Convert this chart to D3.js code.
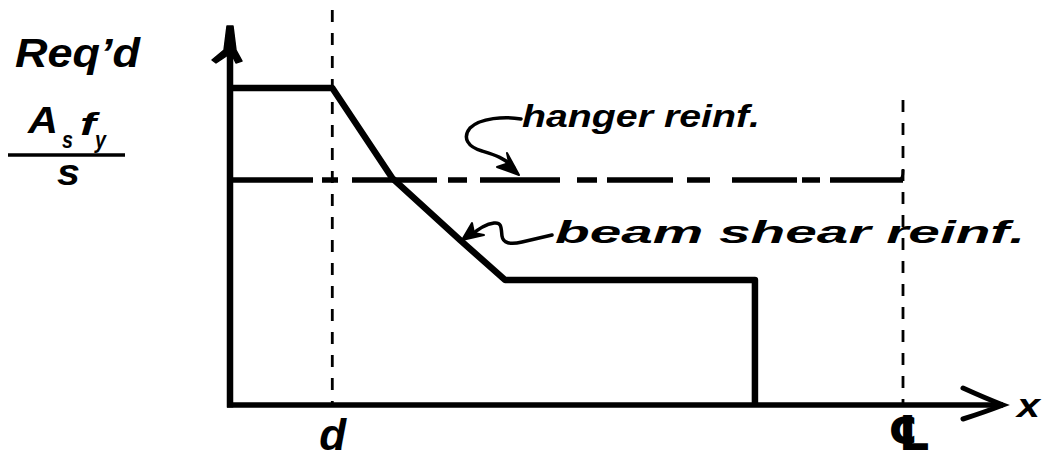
<!DOCTYPE html>
<html>
<head>
<meta charset="utf-8">
<script src="https://cdn.jsdelivr.net/npm/d3@7"></script>
<style>
  html, body { margin: 0; padding: 0; background: #fff; }
  svg { display: block; }
  text { font-family: "Liberation Sans", Arial, sans-serif; font-style: italic; fill: #000; }
</style>
</head>
<body>
<svg id="chart" width="1042" height="462"></svg>
<script>
// ---- data (normalized: x = fraction of distance to centreline, y = relative required A_s f_y / s)
const dPosition = 0.152;              // location of "d" from support
const centrePosition = 1.0;           // centreline of span
const shearX = [0, 0.152, 0.241, 0.342, 0.409, 0.780, 0.780];
const shearY = [1, 1, 0.716, 0.520, 0.394, 0.394, 0];
const hangerX = [0, 1.0];
const hangerY = [0.710, 0.710];
const tickValues = [dPosition, centrePosition];
const tickLabels = ["d", "\u2104"];
const yLabel = "Req\u2019d";
const hangerLabel = "hanger reinf.";
const shearLabel = "beam shear reinf.";

// ---- scales
const svg = d3.select("#chart");
const x = d3.scaleLinear().domain([0, 1]).range([230, 903]);
const y = d3.scaleLinear().domain([0, 1]).range([405, 88]);

// ---- vertical dashed reference lines
svg.append("line").attr("x1", x(dPosition)).attr("x2", x(dPosition))
  .attr("y1", 10).attr("y2", 405)
  .attr("stroke", "#000").attr("stroke-width", 2.8).attr("stroke-dasharray", "12,11");
svg.append("line").attr("x1", x(centrePosition)).attr("x2", x(centrePosition))
  .attr("y1", 100).attr("y2", 405)
  .attr("stroke", "#000").attr("stroke-width", 2.8).attr("stroke-dasharray", "12,11");

// ---- hanger reinforcement (dash-dot)
svg.append("path")
  .datum(hangerX.map((v, i) => [v, hangerY[i]]))
  .attr("d", d3.line().x(d => x(d[0])).y(d => y(d[1])))
  .attr("fill", "none").attr("stroke", "#000").attr("stroke-width", 5.5)
  .attr("stroke-dasharray", "83 9 16 14 85 11 19 13 80 17 20 10 66 14 23 22 65 5 18 10 73");
// small upturn at centreline end
svg.append("path")
  .attr("d", `M${x(1) - 4},${y(hangerY[1])} Q${x(1)},${y(hangerY[1])} ${x(1)},${y(hangerY[1]) - 10}`)
  .attr("fill", "none").attr("stroke", "#000").attr("stroke-width", 3);

// ---- beam shear reinforcement (thick solid)
svg.append("path")
  .datum(shearX.map((v, i) => [v, shearY[i]]))
  .attr("d", d3.line().x(d => x(d[0])).y(d => y(d[1])))
  .attr("fill", "none").attr("stroke", "#000").attr("stroke-width", 6.5)
  .attr("stroke-linejoin", "round");

// ---- axes
const xAxisY = y(0);
svg.append("line").attr("x1", x(0) - 3).attr("x2", 1003).attr("y1", xAxisY).attr("y2", xAxisY)
  .attr("stroke", "#000").attr("stroke-width", 5.5);
svg.append("path").attr("d", `M963,388 Q985,398 1003,${xAxisY} Q985,412 963,419`)
  .attr("fill", "none").attr("stroke", "#000").attr("stroke-width", 5).attr("stroke-linecap", "round");
svg.append("line").attr("x1", x(0)).attr("x2", x(0)).attr("y1", xAxisY + 2.5).attr("y2", 30)
  .attr("stroke", "#000").attr("stroke-width", 6.5);
svg.append("path").attr("d", `M${x(0) - 3},26 L${x(0) + 3},26 L${x(0) + 6},50 L242,61 L236,63 L${x(0) + 2},55 L${x(0) - 2},55 L216,63 L212,60 L${x(0) - 6},50 Z`)
  .attr("fill", "#000").attr("stroke", "#000").attr("stroke-width", 1.5).attr("stroke-linejoin", "round");

// tick labels via d3 axis
const axis = d3.axisBottom(x).tickValues(tickValues)
  .tickFormat((d, i) => tickLabels[i]).tickSize(0).tickPadding(0);
const gAxis = svg.append("g").attr("transform", `translate(0,${xAxisY})`).call(axis);
gAxis.select(".domain").remove();
gAxis.selectAll("text")
  .attr("dy", null).attr("y", 45)
  .style("font-family", "'Liberation Sans', Arial, sans-serif")
  .style("font-style", "italic").style("font-weight", "bold")
  .style("font-size", "44px").attr("fill", "#000");
gAxis.selectAll(".tick").filter((d, i) => i === 1).select("text")
  .attr("y", 45).attr("x", 6)
  .style("font-family", "'DejaVu Sans', sans-serif").style("font-style", "normal")
  .style("font-weight", "bold")
  .style("font-size", "48px");

svg.append("text").attr("x", 1017).attr("y", 417)
  .attr("font-size", 33).attr("font-weight", "bold")
  .attr("textLength", 23).attr("lengthAdjust", "spacingAndGlyphs").text("x");

// ---- y label
svg.append("text").attr("x", 15).attr("y", 67)
  .attr("font-size", 40).attr("font-weight", "bold")
  .attr("textLength", 125).attr("lengthAdjust", "spacingAndGlyphs").text(yLabel);
svg.append("text").attr("x", 28).attr("y", 133).attr("font-size", 36).attr("font-weight", "bold")
  .attr("textLength", 30).attr("lengthAdjust", "spacingAndGlyphs").text("A");
svg.append("text").attr("x", 62).attr("y", 148).attr("font-size", 24).attr("font-weight", "bold")
  .attr("textLength", 11).attr("lengthAdjust", "spacingAndGlyphs").text("s");
svg.append("text").attr("x", 80).attr("y", 135).attr("font-size", 32).attr("font-weight", "bold")
  .attr("textLength", 16).attr("lengthAdjust", "spacingAndGlyphs").text("f");
svg.append("text").attr("x", 95).attr("y", 148).attr("font-size", 24).attr("font-weight", "bold")
  .attr("textLength", 11).attr("lengthAdjust", "spacingAndGlyphs").text("y");
svg.append("line").attr("x1", 8).attr("x2", 125).attr("y1", 155).attr("y2", 155)
  .attr("stroke", "#000").attr("stroke-width", 3.5);
svg.append("text").attr("x", 57).attr("y", 185).attr("font-size", 36).attr("font-weight", "bold")
  .attr("textLength", 23).attr("lengthAdjust", "spacingAndGlyphs").text("s");

// ---- annotations
svg.append("text").attr("x", 522).attr("y", 127).attr("font-size", 31).attr("font-weight", "bold")
  .attr("textLength", 238).attr("lengthAdjust", "spacingAndGlyphs").text(hangerLabel);
svg.append("text").attr("x", 555).attr("y", 243).attr("font-size", 31).attr("font-weight", "bold")
  .attr("textLength", 470).attr("lengthAdjust", "spacingAndGlyphs").text(shearLabel);

// curly leader for hanger
svg.append("path")
  .attr("d", "M521,119 C505,116 480,118 470,128 C462,138 468,147 482,151 C495,155 505,158 514,168")
  .attr("fill", "none").attr("stroke", "#000").attr("stroke-width", 3.5).attr("stroke-linecap", "round");
svg.append("path").attr("d", "M519,175 L497,167 L509,163 L507,153 Z")
  .attr("fill", "#000").attr("stroke", "#000").attr("stroke-width", 2).attr("stroke-linejoin", "round");

// squiggly leader for beam shear
svg.append("path")
  .attr("d", "M552,235 L522,242 C510,245 503,243 502,236 C501,228 502,222 494,223 C486,224 478,229 470,236")
  .attr("fill", "none").attr("stroke", "#000").attr("stroke-width", 3.5).attr("stroke-linecap", "round");
svg.append("path").attr("d", "M462,240 L472,223 L474,233 L484,235 Z")
  .attr("fill", "#000").attr("stroke", "#000").attr("stroke-width", 2).attr("stroke-linejoin", "round");
</script>
</body>
</html>
